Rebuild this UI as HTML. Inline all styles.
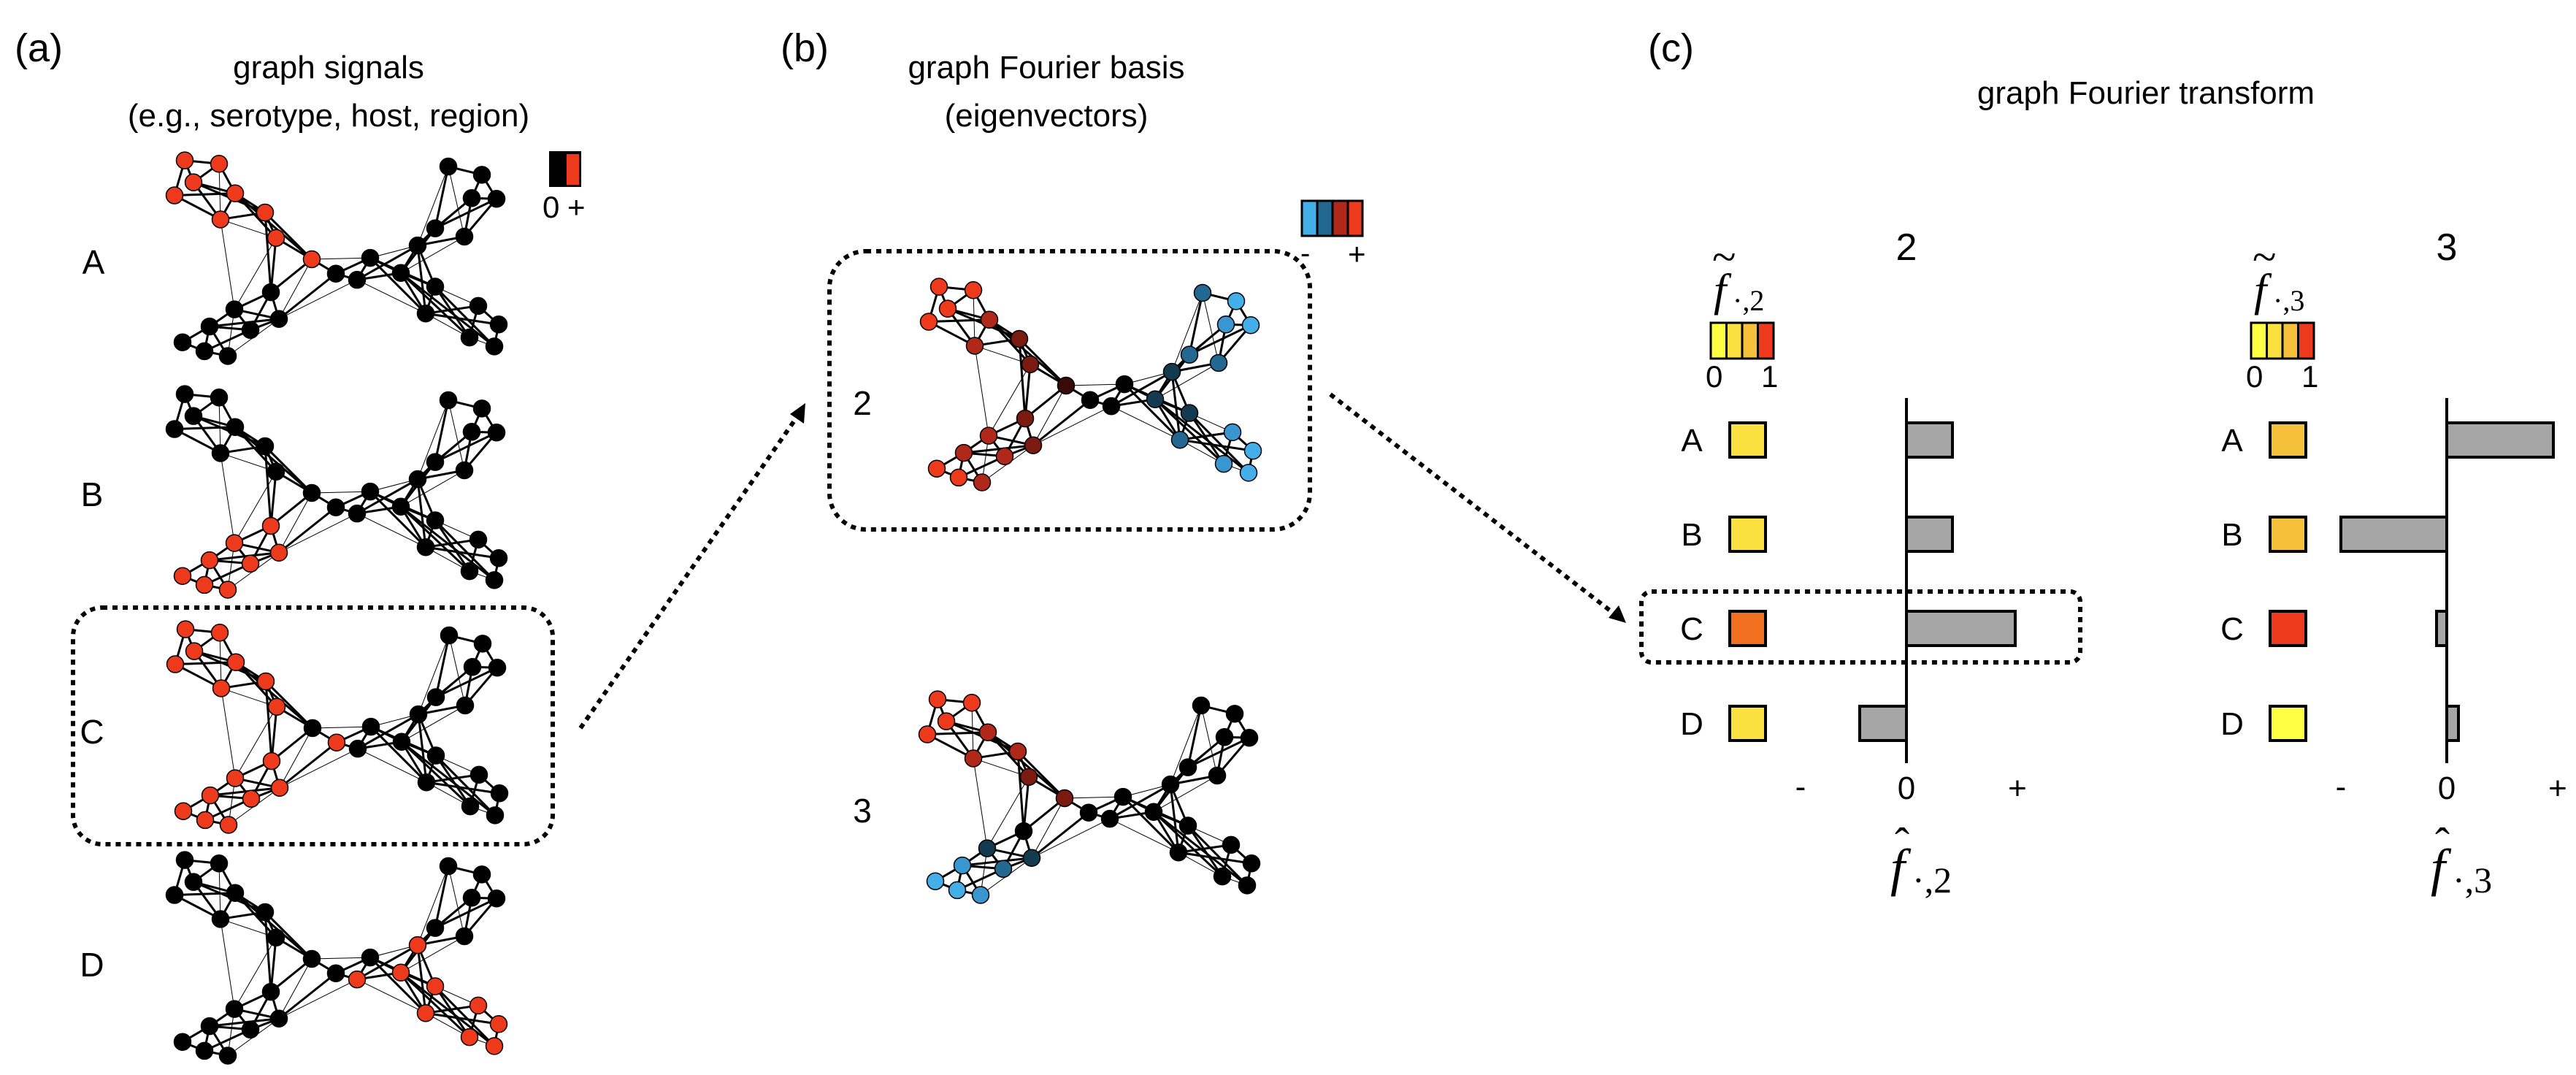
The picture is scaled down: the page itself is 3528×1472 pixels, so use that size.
<!DOCTYPE html>
<html><head><meta charset="utf-8"><style>
html,body{margin:0;padding:0;background:#fff;width:3528px;height:1472px;overflow:hidden}
svg{display:block}
text{font-family:"Liberation Sans",sans-serif;fill:#000}
.m{font-family:"Liberation Serif",serif;font-style:italic}
.ms{font-family:"Liberation Serif",serif}
</style></head><body>
<svg id="s" width="3528" height="1472" viewBox="0 0 3528 1472" xmlns="http://www.w3.org/2000/svg">
<defs><marker id="ah" markerWidth="8" markerHeight="8" refX="5" refY="4" orient="auto" markerUnits="userSpaceOnUse" viewBox="0 0 8 8"><path d="M0,0 L8,4 L0,8 z" fill="#000"/></marker></defs>
<text x="20" y="84" font-size="54">(a)</text>
<text x="450" y="107" font-size="44" text-anchor="middle">graph signals</text>
<text x="450" y="173" font-size="44" text-anchor="middle">(e.g., serotype, host, region)</text>
<text x="1069" y="84" font-size="54">(b)</text>
<text x="1433" y="107" font-size="44" text-anchor="middle">graph Fourier basis</text>
<text x="1433" y="173" font-size="44" text-anchor="middle">(eigenvectors)</text>
<text x="2257" y="84" font-size="54">(c)</text>
<text x="2939" y="142" font-size="44" text-anchor="middle">graph Fourier transform</text>
<text x="128" y="375" font-size="46" text-anchor="middle">A</text>
<text x="126" y="693" font-size="46" text-anchor="middle">B</text>
<text x="126" y="1018" font-size="46" text-anchor="middle">C</text>
<text x="126" y="1337" font-size="46" text-anchor="middle">D</text>
<rect x="752" y="207" width="44" height="49" fill="#000"/>
<rect x="776" y="211" width="17" height="42" fill="#ee3a1c"/>
<text x="743" y="298" font-size="42">0</text><text x="777" y="298" font-size="42">+</text>
<g stroke="#000" stroke-width="3">
<rect x="1783" y="275" width="21" height="48" fill="#44aee8"/>
<rect x="1804" y="275" width="21" height="48" fill="#236890"/>
<rect x="1825" y="275" width="21" height="48" fill="#b0281a"/>
<rect x="1846" y="275" width="20" height="48" fill="#ee3a1c"/>
</g>
<text x="1781" y="360" font-size="40">-</text><text x="1846" y="362" font-size="42">+</text>
<text x="1181" y="568" font-size="46" text-anchor="middle">2</text>
<text x="1181" y="1126" font-size="46" text-anchor="middle">3</text>
<g fill="none" stroke="#000" stroke-width="6" stroke-dasharray="7 7">
<rect x="100" y="832" width="657" height="324" rx="40"/>
<rect x="1136" y="344" width="658" height="381" rx="50"/>
<rect x="2248" y="810" width="601" height="97" rx="14"/>
<line x1="795" y1="997" x2="1095" y2="566"/>
<line x1="1822" y1="540" x2="2218" y2="846"/>
</g>
<path d="M1103,552 L1082,567 L1101,580 z" fill="#000"/>
<path d="M2227,853 L2203,846 L2217,829 z" fill="#000"/>
<g id="g"></g>
<g id="c"></g>
</svg>
<script>
var P=[[53,40],[100,45],[65,72],[39,91],[122,88],[102,126],[163,116],[178,153],[227,184],[171,232],[121,257],[87,282],[50,305],[80,318],[112,325],[143,287],[182,271],[260,205],[289,214],[307,182],[349,204],[372,164],[396,139],[436,151],[446,95],[480,96],[460,61],[414,49],[396,224],[383,263],[455,252],[483,279],[443,298],[477,311]];
var T="0-1 0-3 0-2 1-2 1-4 2-4 2-5 3-4 3-5 4-5 4-6 4-7 5-6 2-6 6-7 6-8 7-8 4-8 7-9 6-9 9-10 9-16 9-8 10-11 10-15 10-16 11-12 11-13 11-15 11-16 12-13 13-14 13-15 15-16 9-15 11-14 8-17 16-17 17-18 17-19 18-19 18-20 18-21 19-20 19-28 19-29 20-21 20-28 20-29 20-33 20-32 20-22 21-22 21-23 21-28 21-29 22-24 22-25 22-27 23-24 23-25 24-25 24-26 25-26 26-27 28-29 28-32 29-30 29-31 30-31 30-32 31-33 28-33".split(" ");
var Th="1-5 5-7 5-10 10-14 7-10 8-16 14-16 8-19 16-18 18-29 19-21 20-23 21-27 21-24 23-27 28-30 29-32 32-33".split(" ");
var R="#ee3a1c",K="#000",D1="#b0281a",D2="#7a1a10",D3="#3a0a06",B1="#143a50",B2="#236890",B3="#3a96d0",B4="#44aee8";
function cols(red){var c=[];for(var i=0;i<34;i++)c.push(red.indexOf(i)>=0?R:K);return c;}
var G=[
 [200,182,cols([0,1,2,3,4,5,6,7,8])],
 [200,502,cols([9,10,11,12,13,14,15,16])],
 [201,824,cols([0,1,2,3,4,5,6,7,9,10,11,12,13,14,15,16,17])],
 [200,1140,cols([18,20,21,28,29,30,31,32,33])],
 [1233,355,[R,R,R,R,D1,D1,D2,D2,D3,D2,D1,D1,R,R,D1,D1,D2,K,K,K,B1,B1,B2,B2,B3,B4,B4,B2,B1,B2,B3,B4,B3,B4]],
 [1231,920,[R,R,R,R,D1,D1,D1,D2,D2,K,B1,B3,B4,B4,B3,B2,B1,K,K,K,K,K,K,K,K,K,K,K,K,K,K,K,K,K]]
];
var s="";
G.forEach(function(g){
 var ox=g[0],oy=g[1];
 function q(i){return [ox+P[i][0],oy+P[i][1]*0.94];}
 Th.forEach(function(e){var a=e.split("-"),p=q(+a[0]),r=q(+a[1]);s+='<line x1="'+p[0]+'" y1="'+p[1]+'" x2="'+r[0]+'" y2="'+r[1]+'" stroke="#000" stroke-width="1"/>';});
 T.forEach(function(e){var a=e.split("-"),p=q(+a[0]),r=q(+a[1]);s+='<line x1="'+p[0]+'" y1="'+p[1]+'" x2="'+r[0]+'" y2="'+r[1]+'" stroke="#000" stroke-width="3"/>';});
 for(var i=0;i<34;i++){var p=q(i);s+='<circle cx="'+p[0]+'" cy="'+p[1]+'" r="11.5" fill="'+g[2][i]+'" stroke="#000" stroke-width="1.5"/>';}
});
document.getElementById("g").innerHTML=s;
var c="";
var rows=[[577,"A"],[706,"B"],[835,"C"],[965,"D"]];
function panel(ax,title,sub,sw,bars){
 c+='<text x="'+ax+'" y="356" font-size="52" text-anchor="middle">'+title+'</text>';
 var cx=ax-258;
 c+='<text class="m" x="'+(cx-6)+'" y="418" font-size="62">f</text>';
 c+='<text class="ms" x="'+(cx-8)+'" y="372" font-size="60">~</text>';
 c+='<text class="ms" x="'+(cx+20)+'" y="425" font-size="40">·,'+sub+'</text>';
 var cs=["#ffff44","#fbe140","#f5c03a","#ee3a1c"];
 for(var i=0;i<4;i++)c+='<rect x="'+(cx-10+i*21.5)+'" y="442" width="21.5" height="49" fill="'+cs[i]+'" stroke="#000" stroke-width="3"/>';
 c+='<text x="'+(cx-17)+'" y="530" font-size="42">0</text><text x="'+(cx+59)+'" y="530" font-size="42">1</text>';
 rows.forEach(function(r,k){
  c+='<text x="'+(ax-294)+'" y="'+(r[0]+41)+'" font-size="44" text-anchor="middle">'+r[1]+'</text>';
  c+='<rect x="'+(ax-242)+'" y="'+(r[0]+2)+'" width="49" height="47" fill="'+sw[k]+'" stroke="#000" stroke-width="4"/>';
  var b=bars[k],x0=Math.min(ax,ax+b),w=Math.abs(b);
  c+='<rect x="'+x0+'" y="'+(r[0]+2)+'" width="'+w+'" height="47" fill="#a6a6a6" stroke="#000" stroke-width="4"/>';
 });
 c+='<line x1="'+ax+'" y1="545" x2="'+ax+'" y2="1045" stroke="#000" stroke-width="4"/>';
 c+='<text x="'+(ax-145)+'" y="1092" font-size="44" text-anchor="middle">-</text>';
 c+='<text x="'+ax+'" y="1094" font-size="44" text-anchor="middle">0</text>';
 c+='<text x="'+(ax+152)+'" y="1094" font-size="44" text-anchor="middle">+</text>';
 c+='<text class="m" x="'+(ax-22)+'" y="1212" font-size="72">f</text>';
 c+='<text class="ms" x="'+(ax-16)+'" y="1175" font-size="60">ˆ</text>';
 c+='<text class="ms" x="'+(ax+8)+'" y="1222" font-size="50">·,'+sub+'</text>';
}
panel(2611,"2","2",["#fbe140","#fbe140","#f07020","#fbe140"],[63,63,149,-64]);
panel(3351,"3","3",["#f5c03a","#f5c03a","#ee3a1c","#ffff44"],[146,-145,-14,16]);
document.getElementById("c").innerHTML=c;
</script>
</body></html>
